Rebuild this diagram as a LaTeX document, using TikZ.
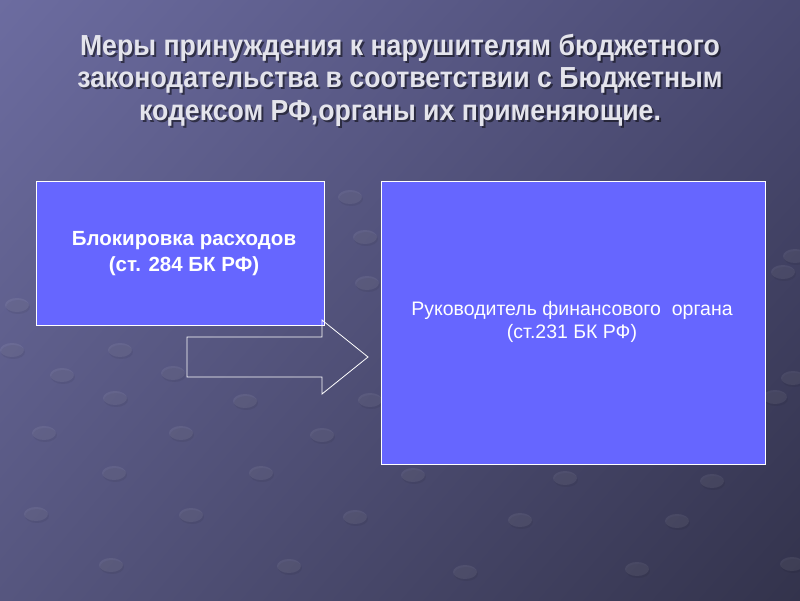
\documentclass[tikz,border=0pt]{standalone}
\usepackage{fontspec}
\setmainfont{Liberation Sans}
\newfontfamily\titlefont[FakeStretch=0.92]{Liberation Sans}
\usetikzlibrary{positioning, shadings}
\definecolor{boxblue}{HTML}{6666FF}
\definecolor{bgtl}{HTML}{6C6CA0}
\definecolor{bgtr}{HTML}{4A4A72}
\definecolor{bgbl}{HTML}{56567F}
\definecolor{bgbr}{HTML}{33334C}
\definecolor{titlegray}{HTML}{E4E4EC}
\tikzset{
  box/.style={draw=white, line width=0.9pt, fill=boxblue, text=white, align=center,
    inner sep=0pt, anchor=north west},
  dot/.style={white, opacity=0.07},
  dotshadow/.style={black, opacity=0.06},
}
\begin{document}
\begin{tikzpicture}[x=1pt, y=-1pt]
  % background
  \useasboundingbox (0,0) rectangle (800,600);
  \shade[upper left=bgtl, upper right=bgtr, lower left=bgbl, lower right=bgbr] (0,0) rectangle (800,600);
  \foreach \x/\y in {17/305, 12/350, 120/350, 62/375, 173/373, 115/398, 245/401,
      44/433, 181/433, 322/435, 114/473, 261/473, 36/514, 191/515, 355/517, 111/565, 289/566,
      413/475, 565/478, 712/481, 520/520, 677/521, 465/572, 637/569, 792/564,
      795/256, 783/272, 793/378, 775/397, 367/283, 365/237, 350/197, 370/400} {
    \fill[dotshadow] (\x+1,\y+2) ellipse [x radius=12, y radius=7];
    \fill[dot] (\x,\y) ellipse [x radius=12, y radius=7];
  }

  % title
  \node[text=black, opacity=0.5, align=center, font=\titlefont\bfseries\fontsize{29}{32.5}\selectfont] (titleshadow) at (402,82)
    {Меры принуждения к нарушителям бюджетного\\законодательства в соответствии с Бюджетным\\кодексом РФ,органы их применяющие.};
  \node[text=titlegray, align=center, font=\titlefont\bfseries\fontsize{29}{32.5}\selectfont] (title) at (400,80)
    {Меры принуждения к нарушителям бюджетного\\законодательства в соответствии с Бюджетным\\кодексом РФ,органы их применяющие.};

  % boxes
  \node[box, minimum width=288, minimum height=144] (block) at (36,181) {};
  \node[font=\bfseries\fontsize{20.5}{26}\selectfont, text=white, align=center] (blocktext) at (184,254)
    {Блокировка расходов\\(ст. 284 БК РФ)};
  \node[box, minimum width=384, minimum height=283] (head) at (381,181) {};
  \node[font=\fontsize{19.5}{23}\selectfont, text=white, align=center] (headtext) at (572,322)
    {Руководитель финансового\ \ органа\\(ст.231 БК РФ)};

  % block arrow
  \draw[white, line width=0.8pt, line join=miter] (187,337) -- (322,337) -- (322,320) -- (368,357)
    -- (322,394) -- (322,377) -- (187,377) -- cycle;
\end{tikzpicture}
\end{document}
